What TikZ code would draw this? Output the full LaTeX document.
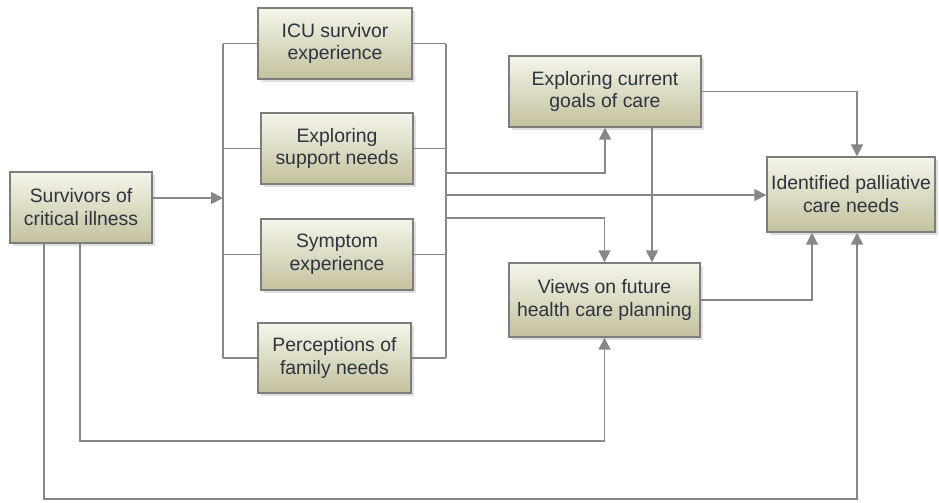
\documentclass[tikz,border=0pt]{standalone}
\usepackage{fontspec}
\setmainfont{Liberation Sans}
\usetikzlibrary{arrows.meta,shadows}
\definecolor{boxtop}{RGB}{245,245,234}
\definecolor{boxbot}{RGB}{195,193,157}
\definecolor{boxline}{RGB}{125,125,125}
\definecolor{wirecol}{RGB}{135,135,135}
\definecolor{txt}{RGB}{45,52,64}

\begin{document}
\begin{tikzpicture}[x=0.025cm,y=-0.025cm,
    box/.style={draw=boxline, line width=1pt, top color=boxtop, bottom color=boxbot,
      text=txt, align=center, inner sep=0pt, font=\fontsize{13.8}{16.3}\selectfont,
      drop shadow={opacity=0.25, shadow xshift=2pt, shadow yshift=-2pt}},
    wire/.style={draw=wirecol, line width=1.3pt},
    arr/.style={wire, -{Triangle[length=8.5pt,width=8.5pt]}}]
    \useasboundingbox (0,0) rectangle (939,502);

    % boxes
    \node[box, minimum width=3.55cm, minimum height=1.775cm] (surv) at (81,207.5) {Survivors of\\critical illness};
    \node[box, minimum width=3.85cm, minimum height=1.775cm] (icu) at (335,43.5) {ICU survivor\\experience};
    \node[box, minimum width=3.8cm, minimum height=1.775cm] (supp) at (337,148.5) {Exploring\\support needs};
    \node[box, minimum width=3.8cm, minimum height=1.775cm] (symp) at (337,254.5) {Symptom\\experience};
    \node[box, minimum width=3.825cm, minimum height=1.75cm] (fam) at (334.5,358) {Perceptions of\\family needs};
    \node[box, minimum width=4.8cm, minimum height=1.775cm] (goals) at (605,91.5) {Exploring current\\goals of care};
    \node[box, minimum width=4.775cm, minimum height=1.85cm] (views) at (604.5,300) {Views on future\\health care planning};
    \node[box, minimum width=4.2cm, minimum height=1.875cm] (ident) at (851,194.5) {Identified palliative\\care needs};

    % bus lines
    \coordinate (lbus) at (223,0);
    \coordinate (rbus) at (446,0);
    \draw[wire] (lbus |- icu) -- (lbus |- fam);
    \draw[wire] (rbus |- icu) -- (rbus |- fam);
    \foreach \n in {icu,supp,symp,fam}
        \draw[wire] (lbus |- \n) -- (\n.west) (\n.east) -- (rbus |- \n);
    \coordinate (in) at (223,198);
    \draw[arr] (surv.east |- in) -- (in);

    % outputs of the right bus
    \coordinate (o1) at (446,173);
    \coordinate (o2) at (446,195);
    \coordinate (o3) at (446,218);
    \draw[arr] (o1) -| (goals.south);
    \draw[arr] (o2) -- (ident.west |- o2);
    \draw[arr] (o3) -| (views.north);

    \coordinate (gv) at (652,0);
    \coordinate (gi) at (857,0);
    \coordinate (vi) at (812,0);
    \draw[arr] (gv |- goals.south) -- (gv |- views.north);
    \draw[arr] (goals.east) -| (gi |- ident.north);
    \draw[arr] (views.east) -| (vi |- ident.south);

    % loops from the survivors
    \coordinate (s1) at (80,441);
    \coordinate (s2) at (44,499);
    \draw[arr] (s1 |- surv.south) -- (s1) -| (views.south);
    \draw[arr] (s2 |- surv.south) -- (s2) -| (gi |- ident.south);
\end{tikzpicture}
\end{document}
